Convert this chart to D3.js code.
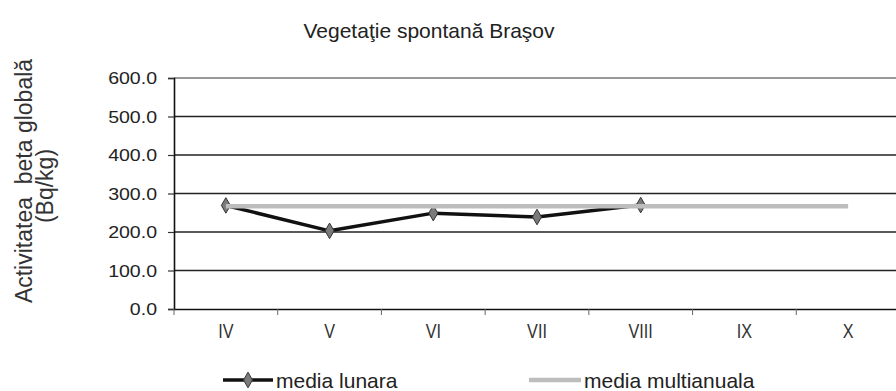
<!DOCTYPE html>
<html>
<head>
<meta charset="utf-8">
<script src="https://cdn.jsdelivr.net/npm/d3@7/dist/d3.min.js"></script>
<style>
  html, body { margin: 0; padding: 0; background: #fff; }
  svg { display: block; font-family: "Liberation Sans", Arial, sans-serif; }
</style>
</head>
<body>
<svg id="chart" width="896" height="391"></svg>
<script>
// Monthly global beta activity, spontaneous vegetation, Braşov
const months = ["IV", "V", "VI", "VII", "VIII", "IX", "X"];
const monthlyMonths = ["IV", "V", "VI", "VII", "VIII"];
const monthlyMean = [269, 203, 249, 239, 270];
const multiAnnualMean = 267;
const yTicks = [0, 100, 200, 300, 400, 500, 600];
const titleText = "Vegetaţie spontană Braşov";
const yLabelLine1 = "Activitatea  beta globală";
const yLabelLine2 = "(Bq/kg)";
const legendLabels = ["media lunara", "media multianuala"];

const svg = d3.select("#chart");

const x = d3.scaleBand().domain(months).range([174, 900]).padding(0);
const y = d3.scaleLinear().domain([0, 600]).range([309, 78]);

// Horizontal gridlines
svg.append("g")
  .selectAll("line")
  .data(yTicks.filter(d => d > 0))
  .join("line")
  .attr("x1", 174).attr("x2", 900)
  .attr("y1", d => y(d)).attr("y2", d => y(d))
  .attr("stroke", d => d === 600 ? "#777" : "#222")
  .attr("stroke-width", 1.3);

// Y axis
const yAxis = svg.append("g")
  .attr("transform", "translate(174,0)")
  .call(d3.axisLeft(y).tickValues(yTicks).tickSize(6).tickFormat(() => ""));
yAxis.select(".domain").attr("stroke", "#111").attr("stroke-width", 1.6);
yAxis.selectAll(".tick line").attr("stroke", "#333").attr("stroke-width", 1.2);

// Y tick labels (slightly widened glyphs)
svg.append("g")
  .selectAll("text")
  .data(yTicks)
  .join("text")
  .attr("transform", d => `translate(157,${y(d) + 6}) scale(1.15,1)`)
  .attr("text-anchor", "end")
  .attr("font-size", 17)
  .attr("fill", "#222")
  .text(d => d3.format(".1f")(d));

// X axis
const xAxis = svg.append("g")
  .attr("transform", "translate(0,309)")
  .call(d3.axisBottom(x).tickSize(0).tickFormat(() => ""));
xAxis.select(".domain").attr("stroke", "#111").attr("stroke-width", 1.6);

// Category boundary ticks
svg.append("g")
  .selectAll("line")
  .data(months)
  .join("line")
  .attr("x1", d => x(d)).attr("x2", d => x(d))
  .attr("y1", 309).attr("y2", 315)
  .attr("stroke", "#666").attr("stroke-width", 1);

// X labels
svg.append("g")
  .selectAll("text")
  .data(months)
  .join("text")
  .attr("transform", d => `translate(${x(d) + x.bandwidth() / 2},338) scale(0.9,1.15)`)
  .attr("text-anchor", "middle")
  .attr("font-size", 18)
  .attr("fill", "#333")
  .text(d => d);

// Monthly mean line with diamond markers
const cx = d => x(d) + x.bandwidth() / 2;
const monthly = monthlyMonths.map((m, i) => ({ m, v: monthlyMean[i] }));

svg.append("path")
  .datum(monthly)
  .attr("fill", "none")
  .attr("stroke", "#111")
  .attr("stroke-width", 3.5)
  .attr("stroke-linejoin", "round")
  .attr("d", d3.line().x(d => cx(d.m)).y(d => y(d.v)));

const diamond = d3.symbol().type(d3.symbolDiamond).size(70);
svg.append("g")
  .selectAll("path")
  .data(monthly)
  .join("path")
  .attr("transform", d => `translate(${cx(d.m)},${y(d.v)})`)
  .attr("d", diamond)
  .attr("fill", "#7a7a7a")
  .attr("stroke", "#333")
  .attr("stroke-width", 1);

// Multi-annual mean line across all months
svg.append("path")
  .datum(months)
  .attr("fill", "none")
  .attr("stroke", "#bdbdbd")
  .attr("stroke-width", 4.5)
  .attr("d", d3.line().x(d => cx(d)).y(() => y(multiAnnualMean)));

// Title
svg.append("text")
  .attr("x", 429).attr("y", 38)
  .attr("text-anchor", "middle")
  .attr("font-size", 21)
  .attr("fill", "#222")
  .text(titleText);

// Y axis title
svg.append("text")
  .attr("transform", "translate(32,181) rotate(-90)")
  .attr("text-anchor", "middle")
  .attr("font-size", 23)
  .attr("fill", "#333")
  .style("white-space", "pre")
  .text(yLabelLine1);
svg.append("text")
  .attr("transform", "translate(53,186) rotate(-90)")
  .attr("text-anchor", "middle")
  .attr("font-size", 23)
  .attr("fill", "#333")
  .text(yLabelLine2);

// Legend
const legend = svg.append("g");
legend.append("line")
  .attr("x1", 223).attr("x2", 273).attr("y1", 380).attr("y2", 380)
  .attr("stroke", "#111").attr("stroke-width", 3.5);
legend.append("path")
  .attr("transform", "translate(248,380)")
  .attr("d", diamond)
  .attr("fill", "#7a7a7a").attr("stroke", "#333").attr("stroke-width", 1);
legend.append("text")
  .attr("x", 276).attr("y", 388)
  .attr("font-size", 21).attr("fill", "#222")
  .text(legendLabels[0]);
legend.append("line")
  .attr("x1", 529).attr("x2", 581).attr("y1", 380).attr("y2", 380)
  .attr("stroke", "#bdbdbd").attr("stroke-width", 4.5);
legend.append("text")
  .attr("x", 584).attr("y", 388)
  .attr("font-size", 21).attr("fill", "#222")
  .text(legendLabels[1]);
</script>
</body>
</html>
